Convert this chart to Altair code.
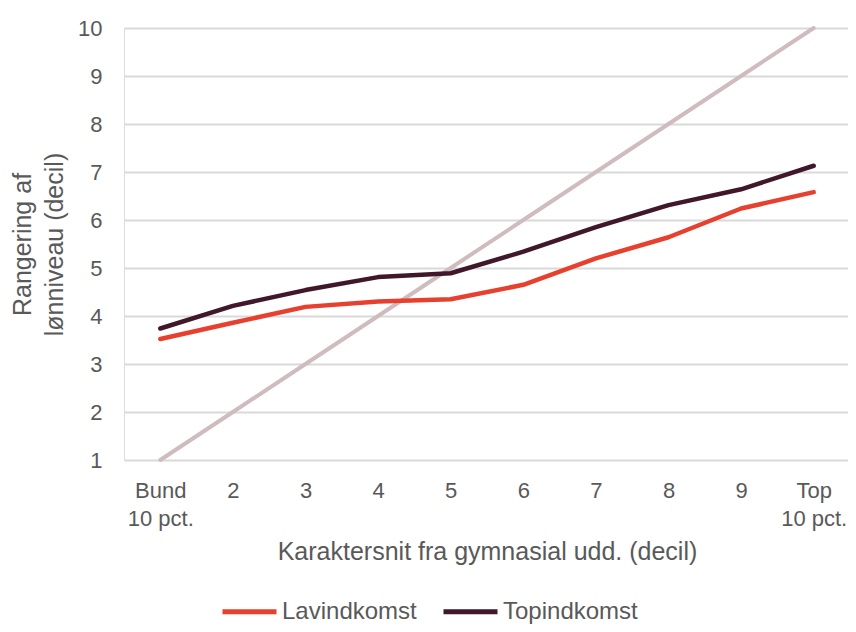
import altair as alt
import pandas as pd

categories = ["Bund|10 pct.", "2", "3", "4", "5", "6", "7", "8", "9", "Top|10 pct."]
lavindkomst = [3.52, 3.86, 4.19, 4.30, 4.35, 4.65, 5.20, 5.64, 6.24, 6.58]
topindkomst = [3.74, 4.21, 4.54, 4.81, 4.89, 5.34, 5.85, 6.31, 6.64, 7.13]
diagonal = [1, 2, 3, 4, 5, 6, 7, 8, 9, 10]
series_names = ["Lavindkomst", "Topindkomst"]
series_colors = ["#E8402F", "#40182A"]
diag_color = "#D0BCBF"

rows = []
for c, v in zip(categories, lavindkomst):
    rows.append({"kat": c, "værdi": v, "serie": series_names[0]})
for c, v in zip(categories, topindkomst):
    rows.append({"kat": c, "værdi": v, "serie": series_names[1]})
df = pd.DataFrame(rows)
df_diag = pd.DataFrame({"kat": categories, "værdi": diagonal})

FONT = "Liberation Sans"
TXT = "#595959"

x_enc = alt.X(
    "kat:N",
    sort=categories,
    scale=alt.Scale(type="point", padding=0.5),
    axis=alt.Axis(
        title="Karaktersnit fra gymnasial udd. (decil)",
        labelExpr="split(datum.label, '|')",
        labelAngle=0,
        labelFontSize=22,
        labelLineHeight=28,
        labelBaseline="alphabetic",
        labelPadding=37,
        labelColor=TXT,
        labelFont=FONT,
        ticks=False,
        tickSize=0,
        domain=False,
        grid=False,
        titleFontSize=25,
        titleFontWeight="normal",
        titleColor=TXT,
        titleFont=FONT,
        titleBaseline="alphabetic",
        titleY=99,
    ),
)

y_enc = alt.Y(
    "værdi:Q",
    scale=alt.Scale(domain=[1, 10], nice=False, zero=False),
    axis=alt.Axis(
        title=["Rangering af", "lønniveau (decil)"],
        values=list(range(1, 11)),
        labelFontSize=22,
        labelColor=TXT,
        labelFont=FONT,
        labelPadding=22,
        ticks=False,
        tickSize=0,
        domain=False,
        grid=True,
        gridColor="#D9D9D9",
        gridWidth=2,
        titleFontSize=25,
        titleFontWeight="normal",
        titleColor=TXT,
        titleFont=FONT,
        titleLineHeight=32,
        titleBaseline="top",
        titleAlign="center",
        titleAngle=-90,
        titleX=-114,
        titleY=216,
    ),
)

diag_layer = alt.Chart(df_diag).mark_line(
    color=diag_color, strokeWidth=4, strokeCap="round"
).encode(x=x_enc, y=y_enc)

lines = alt.Chart(df).mark_line(strokeWidth=4.5, strokeCap="round", strokeJoin="round").encode(
    x=x_enc,
    y=y_enc,
    color=alt.Color(
        "serie:N",
        scale=alt.Scale(domain=series_names, range=series_colors),
        legend=alt.Legend(
            title=None,
            orient="none",
            legendX=96,
            legendY=554,
            direction="horizontal",
            symbolType="stroke",
            symbolSize=2916,
            symbolStrokeWidth=5,
            labelFontSize=24,
            labelColor=TXT,
            labelFont=FONT,
            labelOffset=3,
            columnPadding=16,
            labelLimit=300,
            padding=0,
        ),
    ),
)

chart = (
    alt.layer(diag_layer, lines)
    .properties(
        width=726,
        height=432,
        autosize=alt.AutoSizeParams(type="none"),
        padding={"left": 116, "top": 20, "right": -2, "bottom": 164},
    )
    .configure_view(stroke=None)
    .configure(background="white")
)

chart.save("out.html", embed_options={"renderer": "svg", "actions": False})
